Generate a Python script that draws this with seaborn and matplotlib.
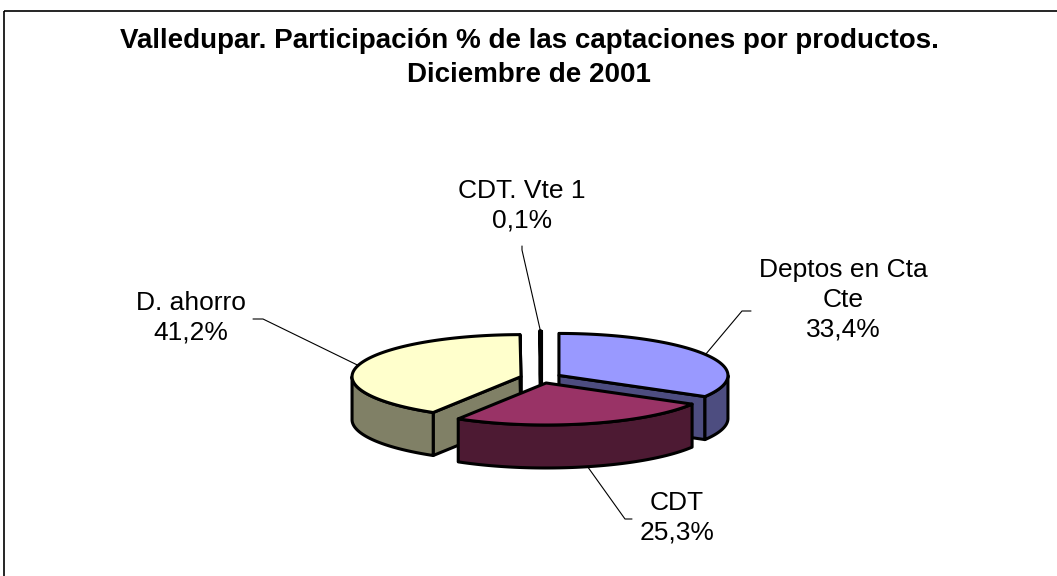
import numpy as np
import matplotlib
matplotlib.use("Agg")
import matplotlib.pyplot as plt
import seaborn as sns
from matplotlib.patches import Polygon, Rectangle

# Valledupar deposits by product, December 2001 (% share)
products = ["Deptos en Cta\nCte", "CDT", "D. ahorro", "CDT. Vte 1"]
shares = [33.4, 25.3, 41.2, 0.1]
top_colors = ["#9999FF", "#993366", "#FFFFCC", "#CCFFFF"]
side_colors = ["#4D4D80", "#4D1A33", "#808066", "#668080"]

title = "Valledupar. Participación % de las captaciones por productos.\nDiciembre de 2001"

# label placement (pixels), leader elbow and end next to each label
label_pos = [(843, 300), (677, 518), (191, 318), (522, 206)]
leader_elbow = [(742, 311), (625, 519), (263, 319), (522, 250)]
leader_end = [(751, 311), (632, 519), (253, 319), (522, 246)]

sns.set_theme(style="white")
plt.rcParams["font.family"] = ["Liberation Sans", "DejaVu Sans"]

fig = plt.figure(figsize=(10.57, 5.76), dpi=100)
ax = fig.add_axes([0, 0, 1, 1])
ax.set_xlim(0, 1057)
ax.set_ylim(576, 0)
ax.axis("off")

# 3d pie geometry, in pixels
cx, cy = 541, 378
rx, ry = 169, 42
depth = 43
explode = 20.7
edge_lw = 2.2


def point(ang, ox, oy, r=1.0, z=0.0):
    t = np.radians(ang)
    return cx + ox + r * rx * np.sin(t), cy + oy - r * ry * np.cos(t) + z


bounds = np.concatenate([[0], np.cumsum(shares)]) / sum(shares) * 360

slices = []
for i in range(len(shares)):
    a0, a1 = bounds[i], bounds[i + 1]
    mid = (a0 + a1) / 2
    ox = explode * np.sin(np.radians(mid))
    oy = -explode * ry / rx * np.cos(np.radians(mid))
    slices.append((i, a0, a1, mid, ox, oy))

# painter's order: back slices first
slices.sort(key=lambda s: s[5])

z = 2
for i, a0, a1, mid, ox, oy in slices:
    c = (cx + ox, cy + oy)
    # radial faces facing the viewer
    for ang, normal in [(a0, a0 - 90), (a1, a1 + 90)]:
        if np.cos(np.radians(normal)) < 0.01:
            p = point(ang, ox, oy)
            pts = [c, p, (p[0], p[1] + depth), (c[0], c[1] + depth)]
            ax.add_patch(Polygon(pts, closed=True, fc=side_colors[i],
                                 ec="black", lw=edge_lw, joinstyle="round", zorder=z))
            z += 1
    # outer wall on the front half
    lo, hi = max(a0, 90), min(a1, 270)
    if hi > lo:
        angs = np.linspace(lo, hi, 80)
        upper = [point(a, ox, oy) for a in angs]
        lower = [point(a, ox, oy, z=depth) for a in angs[::-1]]
        ax.add_patch(Polygon(upper + lower, closed=True, fc=side_colors[i],
                             ec="black", lw=edge_lw, joinstyle="round", zorder=z))
        z += 1
    # top surface
    angs = np.linspace(a0, a1, max(int(a1 - a0), 2))
    pts = [c] + [point(a, ox, oy) for a in angs]
    ax.add_patch(Polygon(pts, closed=True, fc=top_colors[i],
                         ec="black", lw=edge_lw, joinstyle="round", zorder=z))
    z += 1

# labels with leader lines
for i, a0, a1, mid, ox, oy in slices:
    ax_, ay_ = point(mid, ox, oy)
    if np.cos(np.radians(mid)) < 0:
        ay_ += depth
    ex, ey = leader_elbow[i]
    tx, ty = leader_end[i]
    ax.plot([ax_, ex, tx], [ay_, ey, ty], color="black", lw=0.8, zorder=1)
    txt = f"{products[i]}\n{str(shares[i]).replace('.', ',')}%"
    ax.text(label_pos[i][0], label_pos[i][1], txt, ha="center", va="center",
            fontsize=19, linespacing=1.3, color="black", zorder=z)

ax.text(529, 58, title, ha="center", va="center", fontsize=20,
        fontweight="bold", linespacing=1.39, color="black")

ax.add_patch(Rectangle((4, 11), 1200, 800, fill=False, ec="black", lw=1.2,
                       zorder=0))

fig.savefig("out.png", dpi=100)
